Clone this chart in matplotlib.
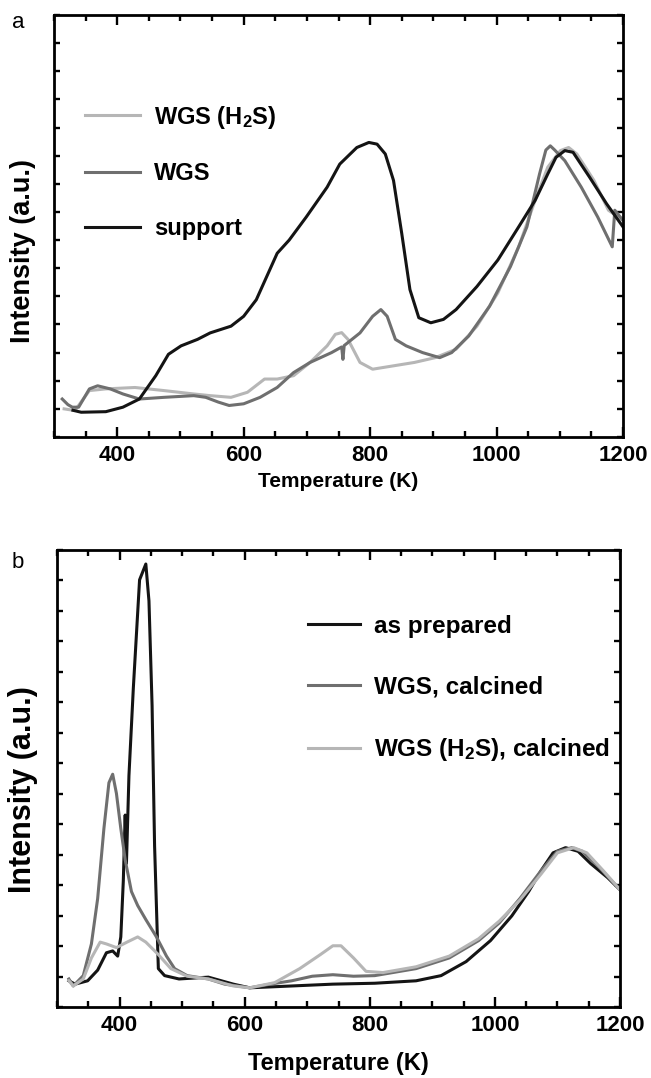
import matplotlib
matplotlib.use("Agg")
import matplotlib.pyplot as plt
from matplotlib.ticker import MultipleLocator, NullFormatter

plt.rcParams["font.family"] = ["Liberation Sans", "DejaVu Sans"]
plt.rcParams["font.weight"] = "bold"
plt.rcParams["mathtext.fontset"] = "custom"
plt.rcParams["mathtext.rm"] = "Liberation Sans:bold"
plt.rcParams["mathtext.it"] = "Liberation Sans:bold"
plt.rcParams["mathtext.default"] = "rm"

# panel a: TPR traces
a_support_t = [330, 343, 382, 409, 435, 461, 481, 501, 527, 547, 580, 600, 620, 653, 672, 699,
               732, 752, 779, 798, 811, 824, 837, 850, 863, 877, 896, 916, 936, 969, 1002, 1035,
               1061, 1081, 1094, 1108, 1121, 1147, 1174, 1200]
a_support_v = [0.95, 0.88, 0.9, 1.06, 1.35, 2.18, 2.94, 3.24, 3.47, 3.7, 3.94, 4.29, 4.88, 6.53, 7.0,
               7.82, 8.88, 9.7, 10.29, 10.47, 10.41, 10.06, 9.12, 7.24, 5.24, 4.24, 4.06, 4.18, 4.53,
               5.35, 6.29, 7.47, 8.41, 9.35, 9.94, 10.18, 10.12, 9.24, 8.29, 7.47]

a_wgs_t = [313, 322, 329, 339, 356, 369, 389, 409, 435, 474, 521, 540, 560, 577, 600, 626, 653, 679,
           705, 739, 755, 757, 759, 784, 804, 817, 827, 840, 857, 883, 910, 929, 956, 989, 1022,
           1048, 1068, 1078, 1085, 1092, 1108, 1134, 1160, 1183, 1187, 1200]
a_wgs_v = [1.35, 1.15, 1.06, 1.06, 1.71, 1.82, 1.71, 1.53, 1.35, 1.41, 1.47, 1.41, 1.24, 1.12, 1.18,
           1.41, 1.76, 2.29, 2.65, 3.0, 3.2, 2.76, 3.25, 3.7, 4.29, 4.53, 4.29, 3.47, 3.24, 3.0, 2.82,
           3.0, 3.59, 4.65, 6.06, 7.47, 9.35, 10.2, 10.35, 10.2, 9.82, 8.88, 7.82, 6.76, 8.06, 7.7]

a_h2s_t = [316, 333, 356, 382, 428, 474, 521, 547, 580, 606, 633, 653, 679, 705, 732, 745, 755, 765,
           784, 804, 837, 870, 903, 936, 969, 1002, 1035, 1061, 1081, 1101, 1114, 1127, 1154, 1177,
           1200]
a_h2s_v = [1.0, 0.94, 1.65, 1.71, 1.76, 1.65, 1.53, 1.47, 1.41, 1.59, 2.06, 2.06, 2.18, 2.65, 3.24,
           3.65, 3.71, 3.47, 2.65, 2.41, 2.53, 2.65, 2.82, 3.12, 3.94, 5.12, 6.76, 8.41, 9.59, 10.18,
           10.29, 10.06, 9.12, 8.06, 7.7]

# panel b
b_prep_t = [319, 329, 349, 365, 379, 389, 397, 402, 406, 409, 411, 415, 422, 432, 442, 447, 452, 456,
            462, 472, 495, 542, 582, 608, 675, 741, 808, 874, 914, 954, 993, 1027, 1054, 1074, 1093,
            1113, 1133, 1153, 1180, 1200]
b_prep_v = [0.86, 0.75, 0.86, 1.21, 1.78, 1.84, 1.67, 2.3, 4.14, 6.3, 4.71, 7.59, 10.46, 14.02,
            14.54, 13.33, 9.89, 5.29, 1.26, 1.03, 0.92, 0.98, 0.75, 0.63, 0.69, 0.75, 0.78, 0.86,
            1.03, 1.49, 2.18, 2.99, 3.79, 4.48, 5.06, 5.23, 5.11, 4.71, 4.25, 3.85]

b_wgs_t = [319, 326, 342, 355, 365, 375, 383, 389, 395, 402, 409, 419, 429, 442, 459, 475, 488, 508,
           542, 568, 608, 641, 675, 708, 741, 774, 808, 874, 927, 974, 1007, 1040, 1074, 1100, 1123,
           1140, 1166, 1200]
b_wgs_v = [0.92, 0.69, 1.03, 2.07, 3.56, 5.86, 7.36, 7.64, 7.01, 5.86, 4.83, 3.79, 3.33, 2.87, 2.30,
           1.67, 1.26, 1.03, 0.92, 0.75, 0.63, 0.75, 0.86, 1.01, 1.06, 1.01, 1.03, 1.26, 1.61, 2.18,
           2.76, 3.56, 4.48, 5.11, 5.23, 5.11, 4.60, 3.85]

b_h2s_t = [319, 326, 342, 355, 369, 379, 395, 412, 429, 442, 462, 482, 508, 542, 582, 608, 648, 688,
           721, 741, 754, 774, 794, 821, 874, 927, 974, 1007, 1040, 1074, 1100, 1126, 1147, 1173, 1200]
b_h2s_v = [0.86, 0.69, 0.92, 1.61, 2.13, 2.07, 1.95, 2.13, 2.30, 2.13, 1.72, 1.26, 1.01, 0.92, 0.69,
           0.63, 0.80, 1.26, 1.72, 2.01, 2.01, 1.61, 1.17, 1.13, 1.32, 1.67, 2.24, 2.82, 3.51, 4.37,
           5.06, 5.23, 5.06, 4.48, 3.85]

BLACK, GRAY, LIGHT = "#141414", "#6f6f6f", "#b6b6b6"
LW = 2.2

fig = plt.figure(figsize=(6.51, 10.78), dpi=100)
ax1 = fig.add_axes([54 / 651, 1 - 437 / 1078, 569 / 651, 422 / 1078])
ax2 = fig.add_axes([57 / 651, 1 - 1007 / 1078, 563 / 651, 457 / 1078])


def style(ax, xsize, ysize, xpad):
    ax.set_xlim(300, 1200)
    ax.set_ylim(0, 15)
    ax.xaxis.set_major_locator(MultipleLocator(200))
    ax.xaxis.set_minor_locator(MultipleLocator(50))
    ax.yaxis.set_major_locator(MultipleLocator(1))
    ax.yaxis.set_major_formatter(NullFormatter())
    ax.tick_params(which="both", direction="in", top=True, right=True, width=1.7)
    ax.tick_params(which="major", length=7, labelsize=16, pad=6)
    ax.tick_params(which="minor", length=4)
    ax.tick_params(axis="y", which="major", length=4)
    for s in ax.spines.values():
        s.set_linewidth(2.0)
    ax.set_xlabel("Temperature (K)", fontsize=xsize, fontweight="bold", labelpad=xpad)
    ax.set_ylabel("Intensity (a.u.)", fontsize=ysize, fontweight="bold")


ax1.plot(a_h2s_t, a_h2s_v, color=LIGHT, lw=LW, label="WGS (H$_2$S)")
ax1.plot(a_wgs_t, a_wgs_v, color=GRAY, lw=LW, label="WGS")
ax1.plot(a_support_t, a_support_v, color=BLACK, lw=LW, label="support")
style(ax1, 15, 19.5, 4)
ax1.yaxis.set_label_coords(-0.032, 0.44)
ax1.legend(loc="upper left", bbox_to_anchor=(0.055, 0.79), frameon=False, fontsize=17,
           borderpad=0, borderaxespad=0, handlelength=2.3, handletextpad=0.6, labelspacing=1.35)

ax2.plot(b_prep_t, b_prep_v, color=BLACK, lw=LW, label="as prepared")
ax2.plot(b_wgs_t, b_wgs_v, color=GRAY, lw=LW, label="WGS, calcined")
ax2.plot(b_h2s_t, b_h2s_v, color=LIGHT, lw=LW, label="WGS (H$_2$S), calcined")
style(ax2, 17, 22, 11)
ax2.yaxis.set_label_coords(-0.034, 0.475)
ax2.legend(loc="upper left", bbox_to_anchor=(0.445, 0.858), frameon=False, fontsize=17.5,
           borderpad=0, borderaxespad=0, handlelength=2.15, handletextpad=0.6, labelspacing=1.55)

fig.text(18 / 651, 1 - 22 / 1078, "a", fontsize=16, fontweight="normal", ha="center", va="center")
fig.text(18 / 651, 1 - 562 / 1078, "b", fontsize=16, fontweight="normal", ha="center", va="center")

fig.savefig("out.png", dpi=100)
